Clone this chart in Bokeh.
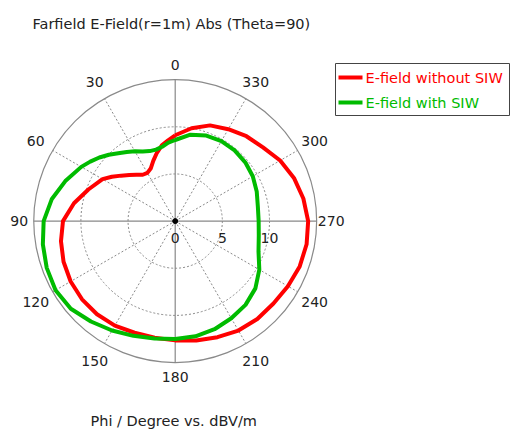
import numpy as np
from bokeh.plotting import figure
from bokeh.models import Range1d
from bokeh.core.properties import value
from bokeh.embed import file_html
from bokeh.resources import INLINE

# ---- data (Phi in degrees, E-field in dBV/m) ----
phi_deg = [0, 5, 10, 15, 20, 25, 30, 35, 40, 45, 50, 55, 60, 70, 80, 90, 100, 110,
           120, 130, 140, 150, 160, 170, 180, 190, 200, 210, 220, 230, 240, 250,
           260, 270, 280, 290, 300, 310, 320, 330, 340, 350]
e_without_siw = [9.1, 8.6, 8.15, 7.5, 6.8, 6.15, 5.9, 6.0, 6.4, 6.9, 7.5, 8.2, 8.9, 9.8,
                 10.9, 11.9, 12.3, 12.6, 12.8, 12.9, 12.9, 12.8, 12.6, 12.55, 12.65,
                 12.85, 13.1, 13.4, 13.55, 13.6, 13.8, 14.05, 14.15, 14.1, 13.8, 13.4,
                 12.85, 12.15, 11.75, 11.25, 10.8, 10.0]
e_with_siw = [8.6, 8.35, 8.0, 7.85, 7.9, 8.15, 8.55, 8.95, 9.4, 9.95, 10.5, 11.0, 11.5,
              12.4, 13.3, 13.95, 14.25, 14.5, 14.65, 14.45, 13.9, 13.4, 12.95, 12.65,
              12.5, 12.4, 12.2, 11.9, 11.6, 11.1, 10.3, 9.4, 9.0, 8.85, 8.9, 9.2, 9.5,
              9.7, 9.8, 9.8, 9.65, 9.3]
angle_ticks = [0, 30, 60, 90, 120, 150, 180, 210, 240, 270, 300, 330]
angle_labels = ["0", "30", "60", "90", "120", "150", "180", "210", "240", "270", "300", "330"]
radial_ticks = [0, 5, 10]
radial_labels = ["0", "5", "10"]
r_max = 15

title_text = "Farfield E-Field(r=1m) Abs (Theta=90)"
xlabel_text = "Phi / Degree vs. dBV/m"
legend_names = ["E-field without SIW", "E-field with SIW"]
RED = "#ff0000"
GREEN = "#00bb00"
GRID = "#8a8a8a"
FONT = "DejaVu Sans"

# ---- geometry ----
W, H = 510, 434
S = 9.43                 # pixels per dB unit
CX, CY = 174.7, 220.6    # canvas px of polar centre

def px(xp):   # page x -> data x
    return (xp - CX) / S

def py(yp):   # page y -> data y
    return (CY - yp) / S

def pol(r, deg):
    a = np.deg2rad(np.asarray(deg, dtype=float))
    r = np.asarray(r, dtype=float)
    return -r * np.sin(a), r * np.cos(a)

p = figure(width=W, height=H, output_backend="svg", toolbar_location=None,
           x_range=Range1d(-CX / S, (W - CX) / S), y_range=Range1d(-(H - CY) / S, CY / S),
           min_border=0)
p.axis.visible = False
p.grid.visible = False
p.outline_line_color = None
p.background_fill_color = "white"
p.border_fill_color = "white"

# grid circles
for rt in [5, 10]:
    p.circle(x=0, y=0, radius=rt, fill_color=None, line_color=GRID, line_width=1,
             line_dash="2 2")
p.circle(x=0, y=0, radius=r_max, fill_color=None, line_color=GRID, line_width=1.2)

# spokes
diag = [a for a in angle_ticks if a % 90 != 0]
x1, y1 = pol([r_max] * len(diag), diag)
p.segment(x0=[0] * len(diag), y0=[0] * len(diag), x1=list(x1), y1=list(y1),
          line_color=GRID, line_width=1, line_dash="2 2")
p.segment(x0=[0, -r_max], y0=[-r_max, 0], x1=[0, r_max], y1=[r_max, 0],
          line_color="#888888", line_width=1.2)

# curves
for vals, col in [(e_without_siw, RED), (e_with_siw, GREEN)]:
    xs, ys = pol(vals + [vals[0]], phi_deg + [phi_deg[0]])
    p.line(list(xs), list(ys), line_color=col, line_width=4, line_join="round")

p.scatter(x=[0], y=[0], size=5, color="black")

# angle labels
lab_r = [(156 if a % 90 == 0 else 161) / S for a in angle_ticks]
lx, ly = pol(lab_r, angle_ticks)
p.text(x=list(lx), y=list(ly), text=angle_labels, text_align="center",
       text_baseline="middle", text_font=value(FONT), text_font_size="14px",
       text_color="#222222")

# radial labels
p.text(x=radial_ticks, y=[-17 / S] * 3, text=radial_labels, text_align="center",
       text_baseline="middle", text_font=value(FONT), text_font_size="14px",
       text_color="#222222")

# title and bottom label
p.text(x=[px(32)], y=[py(23.5)], text=[title_text], text_align="left",
       text_baseline="alphabetic", text_font=value(FONT), text_font_size="14.5px",
       text_color="#222222")
p.text(x=[px(90)], y=[py(420)], text=[xlabel_text], text_align="left",
       text_baseline="alphabetic", text_font=value(FONT), text_font_size="14.5px",
       text_color="#222222")

# legend box
p.quad(left=[px(335)], right=[px(509)], top=[py(63)], bottom=[py(115)],
       fill_color="white", line_color="#444444", line_width=1)
for i, (name, col) in enumerate(zip(legend_names, [RED, GREEN])):
    yy = py(77 + 25 * i)
    p.line([px(338), px(362)], [yy, yy], line_color=col, line_width=4)
    p.text(x=[px(365)], y=[yy], text=[name], text_align="left", text_baseline="middle",
           text_font=value(FONT), text_font_size="14.5px", text_color=col)

open("out.html", "w").write(file_html(p, INLINE))
